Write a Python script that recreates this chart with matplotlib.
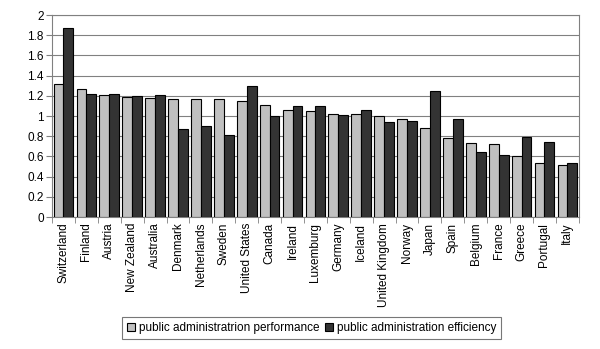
import matplotlib
matplotlib.use("Agg")
import matplotlib.pyplot as plt
import numpy as np

countries = ["Switzerland", "Finland", "Austria", "New Zealand", "Australia", "Denmark",
             "Netherlands", "Sweden", "United States", "Canada", "Ireland", "Luxemburg",
             "Germany", "Iceland", "United Kingdom", "Norway", "Japan", "Spain", "Belgium",
             "France", "Greece", "Portugal", "Italy"]
performance = [1.32, 1.27, 1.21, 1.19, 1.18, 1.17, 1.17, 1.17, 1.15, 1.11, 1.06, 1.05,
               1.02, 1.02, 1.00, 0.97, 0.88, 0.78, 0.73, 0.72, 0.60, 0.54, 0.52]
efficiency = [1.87, 1.22, 1.22, 1.20, 1.21, 0.87, 0.90, 0.81, 1.30, 1.00, 1.10, 1.10,
              1.01, 1.06, 0.94, 0.95, 1.25, 0.97, 0.64, 0.61, 0.79, 0.74, 0.54]
series_labels = ["public administratrion performance", "public administration efficiency"]
yticks = [0, 0.2, 0.4, 0.6, 0.8, 1, 1.2, 1.4, 1.6, 1.8, 2]

plt.rcParams['font.family'] = ['Liberation Sans', 'DejaVu Sans']
fig = plt.figure(figsize=(6, 3.49), dpi=100)
ax = fig.add_axes([0.0867, 0.378, 0.878, 0.579])

x = np.arange(len(countries))
w = 0.43
ax.bar(x - w/2, performance, w, color="#c0c0c0", edgecolor="black", linewidth=0.8,
       label=series_labels[0], zorder=3)
ax.bar(x + w/2, efficiency, w, color="#333333", edgecolor="black", linewidth=0.8,
       label=series_labels[1], zorder=3)

ax.set_xlim(-0.5, len(countries) - 0.5)
ax.set_ylim(0, 2)
ax.set_yticks(yticks)
ax.set_yticklabels([f"{t:g}" for t in yticks], fontsize=8.5)
ax.yaxis.grid(True, color="#808080", linewidth=0.8, zorder=0)
ax.set_xticks(x)
ax.set_xticklabels(countries, rotation=90, fontsize=8.5)
ax.set_xticks(np.arange(len(countries) + 1) - 0.5, minor=True)
ax.tick_params(axis='x', which='major', length=0, pad=4)
ax.tick_params(axis='x', which='minor', length=4, color="#808080")
ax.tick_params(axis='y', length=4, color="#808080", pad=2)
for s in ["top", "right", "left", "bottom"]:
    ax.spines[s].set_color("#808080")

leg = fig.legend(loc="lower center", bbox_to_anchor=(0.519, 0.012), ncol=2, fontsize=8.5,
                 frameon=True, fancybox=False, handlelength=0.7, handleheight=0.7,
                 handletextpad=0.3, columnspacing=0.5, borderpad=0.4)
leg.get_frame().set_edgecolor("#555555")
leg.get_frame().set_linewidth(0.8)

fig.savefig("out.png", dpi=100)
